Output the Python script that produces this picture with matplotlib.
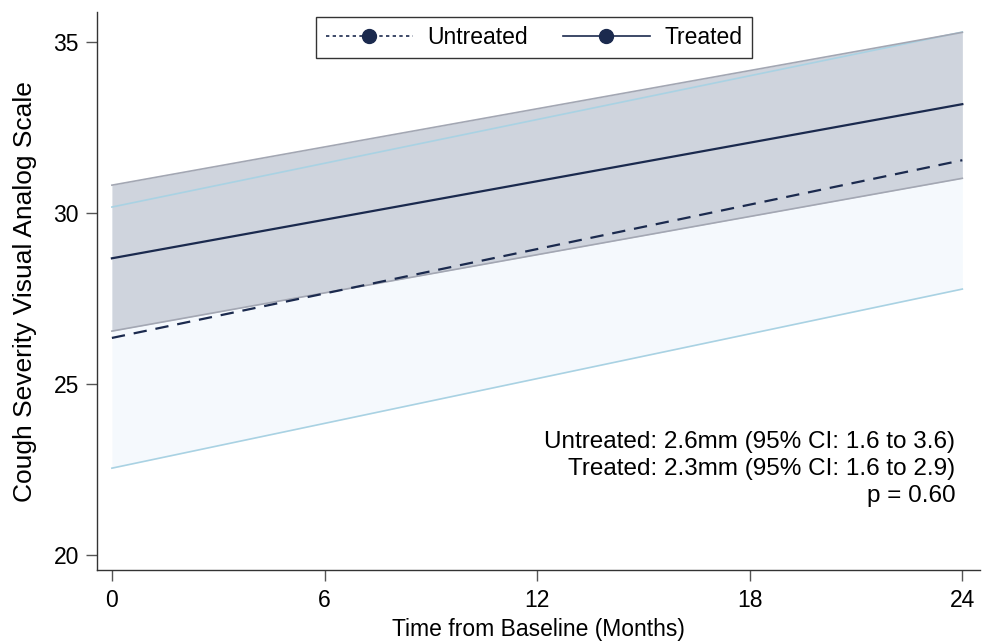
import matplotlib.pyplot as plt
import numpy as np

plt.rcParams['font.family'] = ['Liberation Sans', 'DejaVu Sans']

# months from baseline (line endpoints)
months = [0, 24]

# untreated: fitted line and 95% CI
untreated_fit = [26.35, 31.55]
untreated_lo = [22.54, 27.78]
untreated_hi = [30.18, 35.30]

# treated: fitted line and 95% CI
treated_fit = [28.68, 33.19]
treated_lo = [26.55, 31.02]
treated_hi = [30.82, 35.29]

notes = ['Untreated: 2.6mm (95% CI: 1.6 to 3.6)',
         'Treated: 2.3mm (95% CI: 1.6 to 2.9)',
         'p = 0.60']

navy = '#1b2a4e'

fig = plt.figure(figsize=(9.82, 6.43), dpi=100)
ax = fig.add_axes([0.0988, 0.1135, 0.8992, 0.8675])

# CI bands
ax.fill_between(months, untreated_lo, untreated_hi, color='#f5f9fd', lw=0, zorder=1)
ax.fill_between(months, treated_lo, treated_hi, color='#cfd4dd', lw=0, zorder=2)
ax.plot(months, untreated_lo, color='#a9d2e3', lw=1.2, zorder=3)
ax.plot(months, untreated_hi, color='#a9d2e3', lw=1.2, zorder=3)
ax.plot(months, treated_lo, color='#a3a7b3', lw=1.2, zorder=3)
ax.plot(months, treated_hi, color='#a3a7b3', lw=1.2, zorder=3)

# fitted lines
ax.plot(months, untreated_fit, color=navy, lw=1.6, ls=(0, (6, 4)), zorder=4)
ax.plot(months, treated_fit, color=navy, lw=1.6, zorder=4)

# legend proxies
h1, = ax.plot([], [], color=navy, lw=1.2, ls=(0, (2, 2)), marker='o', ms=10)
h2, = ax.plot([], [], color=navy, lw=1.2, marker='o', ms=10)
leg = ax.legend([h1, h2], ['Untreated', 'Treated'], loc='upper center',
                bbox_to_anchor=(0.495, 1.0), ncol=2, fontsize=16.5, frameon=True,
                fancybox=False, edgecolor='black', handlelength=3.8,
                columnspacing=1.5, borderpad=0.4, handletextpad=0.65,
                borderaxespad=0.2)
leg.get_frame().set_linewidth(1.0)

ax.text(0.972, 0.25, '\n'.join(notes), transform=ax.transAxes, ha='right',
        va='top', fontsize=17.5, linespacing=1.3)

ax.set_xlim(-0.42, 24.5)
ax.set_ylim(19.56, 35.88)
ax.set_xticks([0, 6, 12, 18, 24])
ax.set_yticks([20, 25, 30, 35])
ax.set_xlabel('Time from Baseline (Months)', fontsize=16.5, labelpad=4)
ax.set_ylabel('Cough Severity Visual Analog Scale', fontsize=19, labelpad=12)
ax.tick_params(labelsize=16.5, length=8, color='#555555', width=1)
ax.tick_params(axis='x', pad=6)
ax.tick_params(axis='y', pad=5)
ax.spines['top'].set_visible(False)
ax.spines['right'].set_visible(False)
for s in ['left', 'bottom']:
    ax.spines[s].set_color('#333333')
    ax.spines[s].set_linewidth(1)

plt.savefig('out.png', dpi=100)
